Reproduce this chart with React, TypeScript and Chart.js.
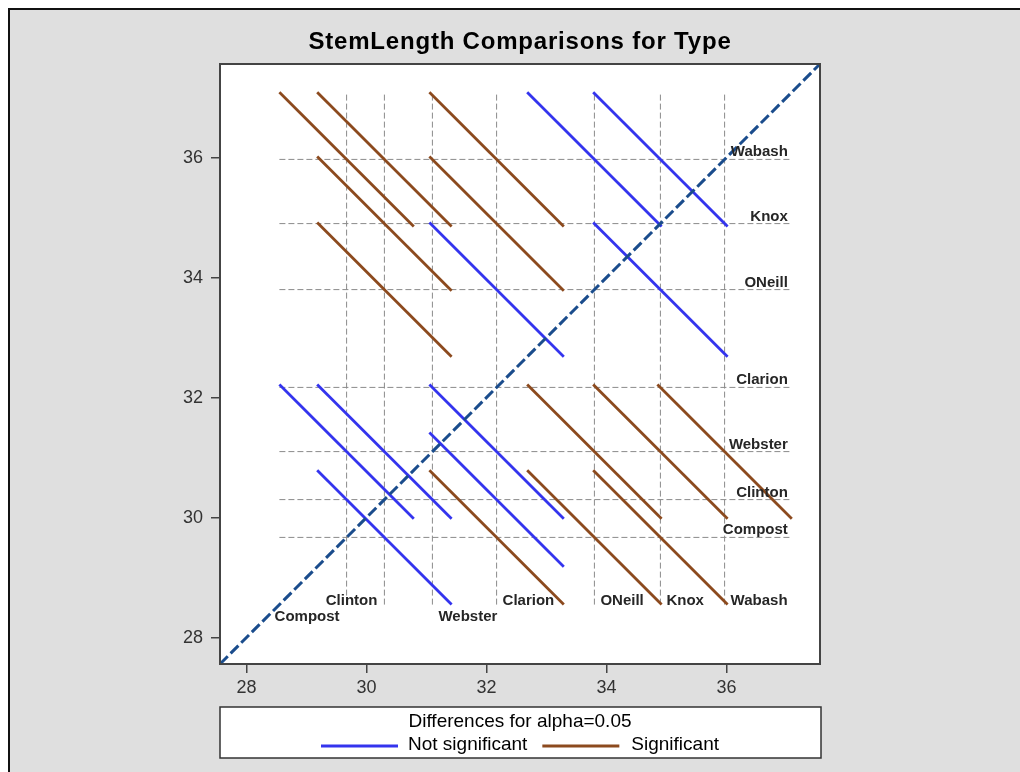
import React, { useEffect, useRef } from "react";
import { Chart, registerables } from "chart.js";

Chart.register(...registerables);

// ---------------- data ----------------
const chartTitle = "StemLength Comparisons for Type";
const types = ["Clarion", "Clinton", "Knox", "ONeill", "Compost", "Wabash", "Webster"];
const means = [32.17, 30.3, 34.9, 33.8, 29.67, 35.97, 31.1];
const halfLength = 1.12; // half of the LSD interval for alpha = 0.05
const axisMin = 27.56;
const axisMax = 37.56;
const tickValues = [28, 30, 32, 34, 36];
const legendTitle = "Differences for alpha=0.05";
const legendLabels = ["Not significant", "Significant"];

// ---------------- styles / layout ----------------
const FONT = "'Liberation Sans', Arial, sans-serif";
const BLUE = "#3434ee";
const BROWN = "#8c4a1e";
const DIAG = "#1a4c8c";
const REF = "#8a8a8a";
const BG = "#dfdfdf";
// bottom label placement: "left" = text to the left of its line, row 1 = lower row
const bottomLeftSide = ["Compost", "Clinton"];
const bottomLowerRow = ["Compost", "Webster"];

const W = 1020;
const H = 772;

export default function App() {
  const ref = useRef<HTMLCanvasElement | null>(null);

  useEffect(() => {
    const canvas = ref.current;
    if (!canvas) return;

    const minExt = Math.min(...means) - halfLength;
    const maxExt = Math.max(...means) + halfLength;

    const datasets: any[] = [];
    // diagonal
    datasets.push({
      label: "diag",
      data: [
        { x: axisMin, y: axisMin },
        { x: axisMax, y: axisMax },
      ],
      showLine: true,
      borderColor: DIAG,
      borderWidth: 3,
      borderDash: [11, 4],
      pointRadius: 0,
      order: 0,
    });
    // difference segments
    for (let i = 0; i < types.length; i++) {
      for (let j = i + 1; j < types.length; j++) {
        const x = means[i];
        const y = means[j];
        const sig = Math.abs(x - y) > 2 * halfLength;
        datasets.push({
          label: types[i] + "-" + types[j],
          data: [
            { x: x - halfLength, y: y + halfLength },
            { x: x + halfLength, y: y - halfLength },
          ],
          showLine: true,
          borderColor: sig ? BROWN : BLUE,
          borderWidth: 2.8,
          pointRadius: 0,
          order: 1,
        });
      }
    }
    // reference lines
    for (let i = 0; i < types.length; i++) {
      datasets.push({
        label: "v" + types[i],
        data: [
          { x: means[i], y: minExt },
          { x: means[i], y: maxExt },
        ],
        showLine: true,
        borderColor: REF,
        borderWidth: 1,
        borderDash: [6, 3],
        pointRadius: 0,
        order: 2,
      });
      datasets.push({
        label: "h" + types[i],
        data: [
          { x: minExt, y: means[i] },
          { x: maxExt, y: means[i] },
        ],
        showLine: true,
        borderColor: REF,
        borderWidth: 1,
        borderDash: [6, 3],
        pointRadius: 0,
        order: 2,
      });
    }

    const decor = {
      id: "decor",
      beforeDraw(chart: any) {
        const ctx = chart.ctx;
        const a = chart.chartArea;
        ctx.save();
        ctx.fillStyle = "#ffffff";
        ctx.fillRect(0, 0, W, H);
        ctx.fillStyle = BG;
        ctx.fillRect(8, 8, W, H);
        ctx.fillStyle = "#111";
        ctx.fillRect(8, 8, W, 2);
        ctx.fillRect(8, 8, 2, H);
        ctx.fillStyle = "#ffffff";
        ctx.fillRect(a.left, a.top, a.right - a.left, a.bottom - a.top);
        ctx.restore();
      },
      afterDraw(chart: any) {
        const ctx = chart.ctx;
        const a = chart.chartArea;
        const xs = chart.scales.x;
        const ys = chart.scales.y;
        ctx.save();
        // frame
        ctx.strokeStyle = "#444";
        ctx.lineWidth = 2;
        ctx.strokeRect(a.left, a.top, a.right - a.left, a.bottom - a.top);

        // level labels
        ctx.font = "bold 15px " + FONT;
        ctx.fillStyle = "#262626";
        ctx.textBaseline = "alphabetic";
        const rightX = xs.getPixelForValue(maxExt) - 4;
        const bottomY = ys.getPixelForValue(minExt);
        types.forEach((t, i) => {
          // right side (horizontal lines)
          ctx.textAlign = "right";
          ctx.fillText(t, rightX, ys.getPixelForValue(means[i]) - 3);
          // bottom (vertical lines)
          const px = xs.getPixelForValue(means[i]);
          const by = bottomY + (bottomLowerRow.includes(t) ? 16 : 0);
          if (bottomLeftSide.includes(t)) {
            ctx.textAlign = "right";
            ctx.fillText(t, px - 7, by);
          } else {
            ctx.textAlign = "left";
            ctx.fillText(t, px + 6, by);
          }
        });

        // title
        const cx = (a.left + a.right) / 2;
        ctx.fillStyle = "#000";
        ctx.font = "bold 24px " + FONT;
        (ctx as any).letterSpacing = "0.8px";
        ctx.textAlign = "center";
        ctx.fillText(chartTitle, cx, 49);
        (ctx as any).letterSpacing = "0px";

        // legend box
        const lt = a.bottom + 43;
        const lb = a.bottom + 94;
        ctx.fillStyle = "#fff";
        ctx.fillRect(a.left, lt, a.right - a.left + 1, lb - lt);
        ctx.strokeStyle = "#333";
        ctx.lineWidth = 1.5;
        ctx.strokeRect(a.left, lt, a.right - a.left + 1, lb - lt);
        ctx.fillStyle = "#000";
        ctx.font = "19px " + FONT;
        ctx.textAlign = "center";
        ctx.textBaseline = "middle";
        ctx.fillText(legendTitle, cx, lt + 15);
        const lineLen = 77;
        const w1 = ctx.measureText(legendLabels[0]).width;
        const w2 = ctx.measureText(legendLabels[1]).width;
        const total = lineLen + 10 + w1 + 15 + lineLen + 12 + w2;
        let x0 = cx - total / 2;
        const ly = lt + 39;
        ctx.lineWidth = 3;
        ctx.strokeStyle = BLUE;
        ctx.beginPath();
        ctx.moveTo(x0, ly);
        ctx.lineTo(x0 + lineLen, ly);
        ctx.stroke();
        x0 += lineLen + 10;
        ctx.textAlign = "left";
        ctx.fillText(legendLabels[0], x0, ly - 1);
        x0 += w1 + 15;
        ctx.strokeStyle = BROWN;
        ctx.beginPath();
        ctx.moveTo(x0, ly);
        ctx.lineTo(x0 + lineLen, ly);
        ctx.stroke();
        x0 += lineLen + 12;
        ctx.fillText(legendLabels[1], x0, ly - 1);
        ctx.restore();
      },
    };

    const tickFont = { family: FONT, size: 18 };
    const chart = new Chart(canvas, {
      type: "scatter",
      data: { datasets },
      options: {
        animation: false,
        responsive: false,
        events: [],
        layout: { padding: { left: 160, top: 64, right: 200, bottom: 68 } },
        plugins: {
          legend: { display: false },
          title: { display: false },
          tooltip: { enabled: false },
        },
        scales: {
          x: {
            type: "linear",
            min: axisMin,
            max: axisMax,
            afterBuildTicks: (s: any) => {
              s.ticks = tickValues.map((v) => ({ value: v }));
            },
            afterFit: (s: any) => {
              s.height = 40;
            },
            ticks: { font: tickFont, color: "#333", padding: 4 },
            grid: {
              drawOnChartArea: false,
              drawTicks: true,
              tickLength: 9,
              color: "#444",
              lineWidth: 1.5,
            },
            border: { display: false },
          },
          y: {
            type: "linear",
            min: axisMin,
            max: axisMax,
            afterBuildTicks: (s: any) => {
              s.ticks = tickValues.map((v) => ({ value: v }));
            },
            afterFit: (s: any) => {
              s.width = 60;
            },
            ticks: { font: tickFont, color: "#333", padding: 8 },
            grid: {
              drawOnChartArea: false,
              drawTicks: true,
              tickLength: 9,
              color: "#444",
              lineWidth: 1.5,
            },
            border: { display: false },
          },
        },
      } as any,
      plugins: [decor],
    });
    return () => chart.destroy();
  }, []);

  return (
    <div style={{ position: "absolute", left: 0, top: 0, width: W, height: H }}>
      <canvas ref={ref} width={W} height={H} style={{ display: "block" }} />
    </div>
  );
}
